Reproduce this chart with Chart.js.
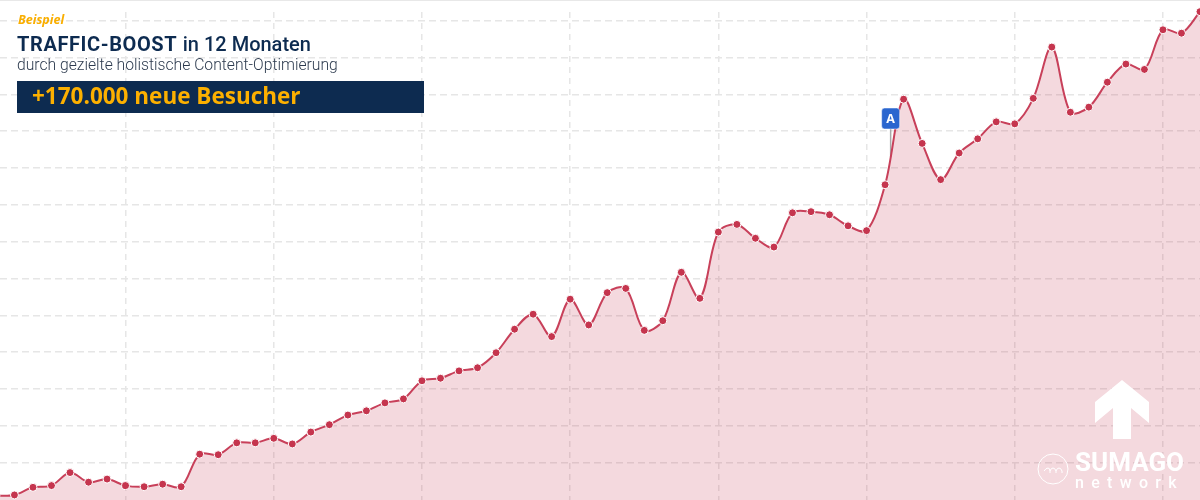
<!DOCTYPE html>
<html lang="de">

<head>
  <meta charset="UTF-8">
  <title>Traffic-Boost</title>
  <script src="https://cdn.jsdelivr.net/npm/chart.js"></script>
  <style>
    html, body { margin: 0; padding: 0; background: #fff; }
    #wrap { position: relative; width: 1200px; height: 500px; overflow: hidden; }
    #wrap canvas { position: absolute; left: 0; top: 0; }
    .rand-oben { position: absolute; left: 0; top: 0; width: 1200px; height: 1px; background: #e8e8e8; }
    .txt { position: absolute; white-space: nowrap; }
    .beispiel { left: 18px; top: 11px; font: italic 700 12.5px "Open Sans", sans-serif; color: #f9ae00; }
    .titel { left: 17px; top: 32px; font: 500 20px Roboto, sans-serif; color: #0d2b50; }
    .titel b { font-weight: 700; letter-spacing: 0.6px; margin-right: 0.5px; }
    .unter { left: 17px; top: 55px; font: 300 15.7px Roboto, sans-serif; color: #2c3a4e; }
    .balken { position: absolute; left: 17px; top: 81px; width: 407px; height: 32px; background: #0d2b50; }
    .besucher { left: 32px; top: 80px; font: 700 22.5px "Open Sans", sans-serif; color: #fcb000; }
    .logo { position: absolute; left: 1030px; top: 375px; }
    .sumago { left: 1075px; top: 447px; font: 700 26px Roboto, sans-serif; color: #fff; }
    .network { left: 1075px; top: 473px; font: 500 16px Roboto, sans-serif; color: #fff; letter-spacing: 7.3px; }
  </style>
</head>

<body>

  <div id="wrap">
    <canvas id="dash-traffic" width="1200" height="500"></canvas>
    <div class="rand-oben"></div>

    <div class="txt beispiel">Beispiel</div>
    <div class="txt titel"><b>TRAFFIC-BOOST</b> in 12 Monaten</div>
    <div class="txt unter">durch gezielte holistische Content-Optimierung</div>
    <div class="balken"></div>
    <div class="txt besucher">+170.000 neue Besucher</div>

    <svg class="logo" width="170" height="125" viewBox="1030 375 170 125">
      <polygon fill="#fff" points="1122,380 1149,402 1149,423 1131,408 1131,439 1113,439 1113,408 1095,423 1095,402" />
      <circle cx="1053" cy="469" r="15" fill="none" stroke="#fff" stroke-width="1" />
      <path fill="none" stroke="#fff" stroke-width="1"
        d="M1044 471 q2 -3 4 -3 t2 3 v2 m0 -2 q1 -3 3 -3 t3 3 v2 m0 -2 q1 -3 3 -3 t3 3 v2" />
    </svg>
    <div class="txt sumago">SUMAGO</div>
    <div class="txt network">network</div>
  </div>

  <script>

    // Wochen seit Start, -1 liegt links ausserhalb vom Bild
    const wochen = [-1, 0, 1, 2, 3, 4, 5, 6, 7, 8, 9, 10, 11, 12, 13, 14, 15, 16, 17, 18, 19, 20, 21,
      22, 23, 24, 25, 26, 27, 28, 29, 30, 31, 32, 33, 34, 35, 36, 37, 38, 39, 40, 41, 42, 43,
      44, 45, 46, 47, 48, 49, 50, 51, 52, 53, 54, 55, 56, 57, 58, 59, 60, 61, 62, 63, 64];

    // Besucher in Tausend
    const besucher = [1.3, 1.6, 4.3, 4.9, 9.5, 6.1, 7.2, 4.9, 4.5, 5.4, 4.5, 16.0, 15.8, 20.0, 20.0, 21.6, 19.6,
      23.8, 26.4, 29.8, 31.3, 34.1, 35.5, 41.9, 42.8, 45.4, 46.5, 51.8, 60.1, 65.4, 57.5, 70.7, 61.6,
      73.0, 74.5, 59.7, 63.1, 80.2, 71.0, 94.4, 97.1, 92.2, 89.1, 101.2, 101.6, 100.5, 96.6, 94.9,
      111.1, 141.3, 125.7, 112.9, 122.3, 127.3, 133.3, 132.6, 141.6, 159.7, 136.7, 138.5, 147.3,
      153.7, 151.8, 165.8, 164.6, 172.2];

    const gitterX = [6, 14, 22, 30, 38, 46, 54, 62];
    const gitterY = [13, 26, 39, 52, 65, 78, 91, 104, 117, 130, 143, 156, 169];

    const flaggeWoche = 47.3;
    const flaggeText = 'A';

    // Flagge A: Stange unter der Linie, Kaestchen darueber
    const flaggePlugin = {
      id: 'flagge',
      beforeDatasetsDraw(chart) {
        const c = chart.ctx;
        const x = chart.scales.x.getPixelForValue(flaggeWoche);
        c.save();
        c.strokeStyle = '#a9a9a9';
        c.lineWidth = 1.5;
        c.beginPath();
        c.moveTo(x, 125);
        c.lineTo(x, 157);
        c.stroke();
        c.restore();
      },
      afterDatasetsDraw(chart) {
        const c = chart.ctx;
        const x = chart.scales.x.getPixelForValue(flaggeWoche);
        c.save();
        c.fillStyle = '#2a66cf';
        c.strokeStyle = '#ffffff';
        c.lineWidth = 0.5;
        c.beginPath();
        c.roundRect(x - 9, 108, 18, 21, 3);
        c.fill();
        c.stroke();
        c.fillStyle = '#ffffff';
        c.font = '700 12.5px "Open Sans", sans-serif';
        c.textAlign = 'center';
        c.textBaseline = 'middle';
        c.fillText(flaggeText, x, 119);
        c.restore();
      }
    };

    const ctx = document.getElementById('dash-traffic');

    new Chart(ctx, {
      type: 'line',
      data: {
        datasets: [{
          data: wochen.map((w, i) => ({ x: w, y: besucher[i] })),
          borderColor: '#c8405a',
          borderWidth: 2,
          backgroundColor: 'rgba(197, 53, 78, 0.19)',
          fill: 'start',
          tension: 0.33,
          clip: false,
          pointRadius: 4,
          pointBackgroundColor: '#c5354e',
          pointBorderColor: '#ffffff',
          pointBorderWidth: 1
        }]
      },
      options: {
        responsive: false,
        animation: false,
        layout: { autoPadding: false, padding: { top: 12 } },
        plugins: {
          legend: { display: false },
          tooltip: { enabled: false }
        },
        scales: {
          x: {
            type: 'linear',
            min: -0.78,
            max: 64,
            afterBuildTicks: axis => { axis.ticks = gitterX.map(v => ({ value: v })); },
            ticks: { display: false },
            border: { display: false, dash: [6, 5] },
            grid: { color: '#e6e6e6', lineWidth: 1.5, drawTicks: false }
          },
          y: {
            min: -0.18,
            max: 172.08,
            afterBuildTicks: axis => { axis.ticks = gitterY.map(v => ({ value: v })); },
            ticks: { display: false },
            border: { display: false, dash: [7, 4] },
            grid: { color: '#e6e6e6', lineWidth: 1.5, drawTicks: false }
          }
        }
      },
      plugins: [flaggePlugin]
    });

  </script>

</body>

</html>
